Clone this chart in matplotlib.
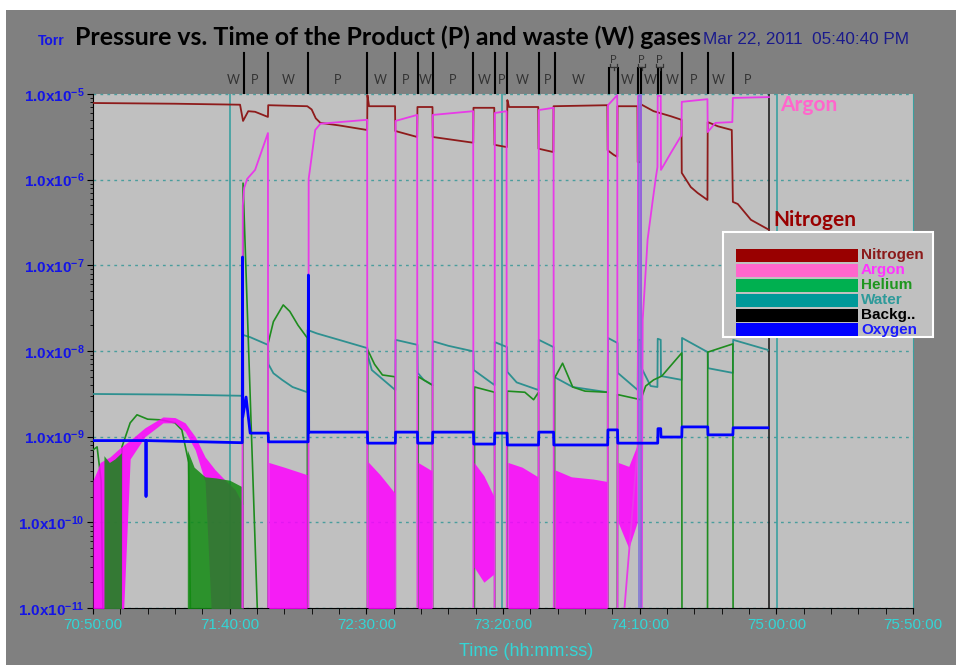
import numpy as np
import matplotlib.pyplot as plt
from matplotlib.patches import Rectangle
from matplotlib.ticker import FixedLocator, MultipleLocator, FuncFormatter, NullFormatter

plt.rcParams['font.family'] = ['Liberation Sans', 'DejaVu Sans']
plt.rcParams['mathtext.fontset'] = 'custom'
plt.rcParams['mathtext.rm'] = 'Liberation Sans'
plt.rcParams['mathtext.bf'] = 'Liberation Sans:bold'

T0 = 70 * 60 + 50   # 70:50:00 in minutes
LOW = 1e-12         # below the 1e-11 floor (trace runs off the bottom)

# ---- traces: minutes after 70:50:00, pressure in Torr
n2_t = [0, 30, 53.8, 54.9, 56.8, 59.3, 64.0, 64.1, 78.4, 80.0, 81.5, 83.2, 90, 100.3,
        100.4, 101.0, 110.5, 110.6, 118.6, 118.7, 124.2, 124.3, 139.1, 139.2, 146.8,
        146.9, 151.4, 151.6, 152.2, 162.9, 163.0, 168.4, 168.5, 188.2, 188.3, 190.5,
        191.8, 191.9, 199.2, 199.3, 200.3, 200.4, 205.1, 211.4, 215.3, 215.4, 218.7,
        221.2, 224.8, 224.9, 228.6, 233.7, 234.1, 235.9, 240.7, 247.3]
n2_p = [7.85e-6, 7.7e-6, 7.5e-6, 4.85e-6, 6.3e-6, 6.2e-6, 5.4e-6, 7.4e-6, 7.2e-6, 6.6e-6,
        5.2e-6, 4.6e-6, 4.3e-6, 3.8e-6, 9.7e-6, 7.2e-6, 7.2e-6, 3.7e-6, 3.15e-6, 7.05e-6,
        7.05e-6, 3.15e-6, 2.7e-6, 6.9e-6, 6.9e-6, 2.55e-6, 2.4e-6, 8.5e-6, 7.05e-6, 7.05e-6,
        2.3e-6, 2.1e-6, 7.2e-6, 7.4e-6, 2.2e-6, 1.95e-6, 1.85e-6, 7.2e-6, 7.2e-6, 1.6e-6,
        1.6e-6, 7.6e-6, 6.3e-6, 5.5e-6, 5.0e-6, 1.2e-6, 8.2e-7, 7.0e-7, 5.8e-7, 4.7e-6,
        4.2e-6, 3.8e-6, 5.5e-7, 5.2e-7, 3.4e-7, 2.6e-7]

ar_t = [54.6, 54.8, 55.3, 56.4, 59.3, 64.0, 64.1, 78.8, 78.9, 81.3, 83.2, 100.3, 100.4,
        110.6, 110.7, 118.6, 118.7, 124.2, 124.3, 139.1, 139.2, 146.9, 147.0, 151.3,
        151.4, 163.0, 163.1, 168.5, 168.6, 188.3, 188.4, 191.8, 191.9, 199.3, 199.4,
        200.5, 200.6, 201.1, 202.9, 204.8, 205.9, 206.5, 206.6, 207.7, 207.8, 211.4,
        215.3, 215.4, 224.8, 224.9, 227.7, 233.9, 234.1, 247.3]
ar_p = [LOW, 5e-7, 8e-7, 1.02e-6, 1.3e-6, 3.5e-6, LOW, LOW, 1.02e-6, 3.8e-6, 4.5e-6, 5.0e-6,
        LOW, LOW, 4.85e-6, 5.7e-6, LOW, LOW, 5.7e-6, 6.3e-6, LOW, LOW, 6.0e-6, 6.3e-6,
        LOW, LOW, 6.5e-6, 6.9e-6, LOW, LOW, 7.4e-6, 9.7e-6, LOW, 8e-10, 9.5e-6,
        9.5e-6, LOW, 2.3e-8, 2.0e-7, 5.8e-7, 1.05e-6, 1.4e-6, 9.5e-6, 9.5e-6, 1.3e-6, 2.05e-6,
        3.3e-6, 8.1e-6, 8.7e-6, 3.6e-6, 4.6e-6, 4.7e-6, 9.0e-6, 9.2e-6]

he_t = [0, 1.5, 3.0, 4.0, 10.2, 10.6, 13.6, 16.1, 20, 25, 30, 32.5, 35.0, 36.0, 54.8, 54.9,
        60.1, 60.2, 64.0, 64.1, 66, 69.6, 72, 75, 78.4, 78.5, 100.4, 100.5, 103, 105.9,
        110.5, 110.6, 118.9, 119.0, 124.2, 124.3, 139.5, 139.6, 146.9, 147.0, 151.5,
        151.6, 158, 161.2, 163.0, 163.1, 168.8, 168.9, 171.8, 175.5, 180, 188.3, 188.4,
        191.8, 191.9, 199.3, 200.4, 202.2, 205.1, 208.1, 215.4, 215.5, 224.8, 224.9,
        234.1, 234.2, 247.3]
he_p = [7e-10, 7.6e-10, 3e-10, LOW, LOW, 7.6e-10, 1.45e-9, 1.8e-9, 1.6e-9, 1.57e-9, 1.45e-9,
        1.2e-9, 5e-10, LOW, LOW, 9.1e-7, 1e-11, LOW, LOW, 1.24e-8, 2.2e-8, 3.45e-8, 2.9e-8,
        2.0e-8, 1.42e-8, LOW, LOW, 1.03e-8, 7e-9, 5.25e-9, 5.0e-9, LOW, LOW, 5.0e-9, 4.0e-9,
        LOW, LOW, 3.8e-9, 3.3e-9, LOW, LOW, 3.4e-9, 3.3e-9, 2.7e-9, 3.3e-9, LOW, LOW, 4.85e-9,
        7.2e-9, 3.8e-9, 3.4e-9, 3.3e-9, LOW, LOW, 3.1e-9, 2.75e-9, 2.7e-9, 3.9e-9, 4.6e-9,
        5.1e-9, 9.5e-9, LOW, LOW, 9.7e-9, 1.21e-8, LOW, LOW]

h2o_t = [0, 30, 54.8, 54.9, 57.5, 64.0, 64.2, 66, 69.2, 73, 78.4, 78.5, 82, 90, 100.4,
         100.5, 102, 110.6, 110.7, 118.7, 118.8, 121, 124.2, 124.3, 130, 139.2, 139.3,
         146.9, 147.0, 151.5, 151.6, 155, 163.0, 163.1, 168.5, 168.6, 175.5, 188.3, 188.4,
         191.9, 192.0, 199.3, 199.4, 200.3, 200.5, 204, 206.5, 206.6, 207.7, 207.8, 215.4,
         215.5, 224.9, 225.0, 234.1, 234.2, 246.9]
h2o_p = [3.15e-9, 3.1e-9, 3.0e-9, 1.54e-8, 1.45e-8, 1.18e-8, 7e-9, 5.5e-9, 4.6e-9, 3.8e-9,
         3.3e-9, 1.76e-8, 1.6e-8, 1.35e-8, 1.08e-8, 9e-9, 6e-9, 3.5e-9, 1.35e-8, 1.18e-8,
         5.55e-9, 4.6e-9, 4.0e-9, 1.3e-8, 1.15e-8, 9.9e-9, 6e-9, 4.0e-9, 1.27e-8, 1.11e-8,
         5.7e-9, 4.3e-9, 3.5e-9, 1.35e-8, 1.11e-8, 5.0e-9, 3.8e-9, 3.3e-9, 1.42e-8, 1.24e-8,
         5.55e-9, 3.5e-9, 1.35e-8, 1.35e-8, 6.5e-9, 3.9e-9, 3.8e-9, 1.39e-8, 1.35e-8, 5.1e-9,
         4.6e-9, 1.42e-8, 9.7e-9, 6.3e-9, 5.55e-9, 1.35e-8, 1.03e-8]

o2_t = [0, 19.3, 19.4, 19.5, 54.6, 54.7, 54.8, 56.0, 57.5, 64.1, 64.2, 78.7, 78.8, 78.9,
        100.4, 100.5, 110.6, 110.7, 118.7, 118.8, 124.2, 124.3, 139.2, 139.3, 146.9, 147.0,
        151.5, 151.6, 163.0, 163.1, 168.5, 168.6, 188.3, 188.4, 191.9, 192.0, 206.6, 206.7,
        207.7, 207.8, 215.4, 215.5, 224.9, 225.0, 234.1, 234.2, 246.9]
o2_p = [9e-10, 9e-10, 2.0e-10, 9e-10, 8.5e-10, 1.25e-7, 1.7e-9, 2.9e-9, 1.1e-9, 1.1e-9,
        8.7e-10, 8.7e-10, 7.7e-8, 1.13e-9, 1.13e-9, 8.4e-10, 8.4e-10, 1.13e-9, 1.13e-9,
        8.4e-10, 8.4e-10, 1.13e-9, 1.13e-9, 8.2e-10, 8.2e-10, 1.1e-9, 1.1e-9, 8.0e-10,
        8.0e-10, 1.13e-9, 1.13e-9, 8.0e-10, 8.0e-10, 1.2e-9, 1.2e-9, 8.4e-10, 8.4e-10,
        1.24e-9, 1.24e-9, 9.9e-10, 9.9e-10, 1.3e-9, 1.3e-9, 1.05e-9, 1.05e-9, 1.27e-9,
        1.27e-9]
o2_flush = (199.3, 200.9)   # oxygen burst spanning the full scale

# noisy bands: (times, upper envelope, lower envelope)
ar_noise = [
    ([0, 1.5, 2.6, 6.2, 9.9, 13.6, 19.0, 25.6, 30.0, 33.7, 37.4, 41.0, 44.7, 48.4, 52.0, 54.9],
     [3.1e-10, 4e-10, 5e-10, 5.8e-10, 7.4e-10, 9.1e-10, 1.27e-9, 1.7e-9, 1.67e-9, 1.45e-9,
      1.0e-9, 5.8e-10, 4.1e-10, 3.1e-10, 2.4e-10, 1.6e-10],
     [LOW, LOW, LOW, LOW, LOW, 5.5e-10, 1.0e-9, 1.45e-9, 1.45e-9, 1.15e-9, 7e-10, 3e-10,
      LOW, LOW, LOW, LOW]),
    ([64.3, 70, 78.3], [5e-10, 4.4e-10, 3.6e-10], [LOW] * 3),
    ([100.6, 105, 110.4], [5.1e-10, 3.6e-10, 2.2e-10], [LOW] * 3),
    ([118.9, 124.0], [5e-10, 4e-10], [LOW] * 2),
    ([139.4, 143, 146.7], [5e-10, 3.5e-10, 2e-10], [3e-11, 2e-11, 2.5e-11]),
    ([151.8, 157, 162.8], [5e-10, 4.4e-10, 3.4e-10], [LOW] * 3),
    ([169.0, 175, 183, 188.1], [4.1e-10, 3.4e-10, 3.2e-10, 3.0e-10], [LOW] * 4),
    ([192.1, 196, 199.1], [5e-10, 4.5e-10, 8e-10], [1e-10, 5e-11, 1e-10]),
]
he_noise = [
    ([4.0, 6, 8, 10.4], [6e-10, 5e-10, 5.5e-10, 6.5e-10], [LOW] * 4),
    ([34.5, 37, 41, 45, 50, 54.6], [7e-10, 4.4e-10, 3.4e-10, 3.3e-10, 3.1e-10, 2.6e-10],
     [LOW] * 6),
]

# phase annotations along the top
phase_lbl = ['W', 'P', 'W', 'P', 'W', 'P', 'W', 'P', 'W', 'P', 'W', 'P', 'W',
             'W', 'W', 'W', 'P', 'W', 'P']
phase_mid = [51.3, 59.0, 71.4, 89.4, 105.1, 114.3, 121.6, 131.5, 143.2, 149.5, 157.1,
             166.3, 177.7, 195.6, 204.0, 212.1, 219.8, 228.9, 239.6]
pulse_mid = [190.5, 200.7, 207.3]
cuts_long = [55.3, 64.1, 78.8, 100.4, 110.6, 119.0, 124.5, 139.2, 146.9, 151.6, 163.0,
             168.9, 215.4, 224.9, 234.1]
cuts_short = [188.6, 191.9, 199.3, 200.4, 206.6, 207.7]
water_marks = [50.2, 149.8, 250.2]
scan_end = 247.3

legend_names = ['Nitrogen', 'Argon', 'Helium', 'Water', 'Backg..', 'Oxygen']
legend_bar = ['#990000', '#FF66CC', '#00B050', '#009999', '#000000', '#0000FF']
legend_txt = ['#8B1A1A', '#FF33FF', '#1E961E', '#2E9A9A', '#000000', '#1A1AFF']

c_n2, c_ar, c_ar_noise, c_he, c_h2o, c_o2 = '#8E1B1B', '#E83AE8', '#FF00FF', '#1E8C1E', '#2E9090', '#0000FF'
cyan = '#33D6D6'

fig = plt.figure(figsize=(9.56, 6.65), dpi=100, facecolor='white')
fig.patches.append(Rectangle((6 / 956, 0), 1, 655 / 665, transform=fig.transFigure,
                             facecolor='#808080', edgecolor='none', zorder=-10))
ax = fig.add_axes([93 / 956, 57 / 665, 820 / 956, 514 / 665])
ax.set_facecolor('#C0C0C0')
ax.set_yscale('log')
ax.set_xlim(T0, T0 + 300)
ax.set_ylim(1e-11, 1e-5)

for d in range(-11, -4):
    ax.axhline(10.0 ** d, color='#4A9D9D', lw=1, ls=(0, (2, 3)), zorder=1, clip_on=False)

for x in water_marks:
    ax.axvline(T0 + x, color='#3AA0A0', lw=1.2, zorder=2)
ax.axvline(T0 + scan_end, color='#202020', lw=1.2, zorder=2)

ax.plot(T0 + np.array(n2_t), n2_p, color=c_n2, lw=1.3, zorder=3)
ax.plot(T0 + np.array(h2o_t), h2o_p, color=c_h2o, lw=1.3, zorder=3)
ax.plot(T0 + np.array(he_t), he_p, color=c_he, lw=1.2, zorder=4)
for t, hi, lo in ar_noise:
    ax.fill_between(T0 + np.array(t), lo, hi, color=c_ar_noise, lw=0, alpha=0.85, zorder=4)
for t, hi, lo in he_noise:
    ax.fill_between(T0 + np.array(t), lo, hi, color='#128A12', lw=0, alpha=0.85, zorder=5)
ax.plot(T0 + np.array(ar_t), ar_p, color=c_ar, lw=1.3, zorder=5)
ax.axvspan(T0 + o2_flush[0], T0 + o2_flush[1], color='#7A6FD8', alpha=0.75, lw=0, zorder=5)
ax.plot(T0 + np.array(o2_t), o2_p, color=c_o2, lw=2.0, zorder=6)

# axes styling
ax.spines['top'].set_visible(False)
ax.spines['right'].set_color('#3AA0A0')
ax.spines['left'].set_color('black')
ax.spines['bottom'].set_color('black')

ax.xaxis.set_major_locator(FixedLocator([T0 + 50 * k for k in range(7)]))
ax.xaxis.set_minor_locator(MultipleLocator(10))
ax.xaxis.set_major_formatter(FuncFormatter(
    lambda v, p: '%d:%02d:00' % (int(round(v)) // 60, int(round(v)) % 60)))
ax.tick_params(axis='x', which='both', direction='out', length=4, color='black',
               labelcolor=cyan, labelsize=11, pad=3)

ax.yaxis.set_major_locator(FixedLocator([10.0 ** d for d in range(-11, -4)]))
ax.yaxis.set_minor_locator(FixedLocator([m * 10.0 ** d for d in range(-11, -5) for m in range(2, 10)]))
ax.yaxis.set_minor_formatter(NullFormatter())
ax.yaxis.set_major_formatter(FuncFormatter(
    lambda v, p: r'$\mathbf{1.0x10^{%d}}$' % round(np.log10(v))))
ax.tick_params(axis='y', which='major', direction='out', length=4, color='black',
               labelcolor='#1414E6', labelsize=11, pad=2)
ax.tick_params(axis='y', which='minor', direction='out', length=2.5, color='black')

# phase markers above the plot
xt = ax.get_xaxis_transform()
for x in cuts_long:
    ax.plot([T0 + x] * 2, [1.002, 1.080], color='black', lw=1.5, transform=xt, clip_on=False)
for x in cuts_short:
    ax.plot([T0 + x] * 2, [1.002, 1.051], color='black', lw=1.5, transform=xt, clip_on=False)
for lbl, x in zip(phase_lbl, phase_mid):
    ax.text(T0 + x, 1.027, lbl, transform=xt, ha='center', va='center', fontsize=9,
            family=['Lato', 'DejaVu Sans'], color='#333333')
for x in pulse_mid:
    ax.text(T0 + x, 1.068, 'P', transform=xt, ha='center', va='center', fontsize=8,
            family=['Lato', 'DejaVu Sans'], color='#333333')
    ax.plot(T0 + x + np.array([-1.3, -1.3, 1.3, 1.3]), [1.058, 1.053, 1.053, 1.058],
            color='#333333', lw=0.9, transform=xt, clip_on=False)
    ax.plot([T0 + x] * 2, [1.053, 1.047], color='#333333', lw=0.9, transform=xt, clip_on=False)

# titles
fig.text(38 / 956, 1 - 41 / 665, 'Torr', color='#1414E6', fontsize=10, fontweight='bold',
         va='center')
fig.text(75 / 956, 1 - 37 / 665, 'Pressure vs. Time of the Product (P) and waste (W) gases',
         family=['Lato', 'DejaVu Sans'], fontsize=17.9, fontweight='bold', color='black',
         va='center')
fig.text(703 / 956, 1 - 40 / 665, 'Mar 22, 2011  05:40:40 PM', color='#1A1A8C', fontsize=12.3,
         va='center')
fig.text(526 / 956, 1 - 652 / 665, 'Time (hh:mm:ss)', color=cyan, fontsize=13,
         ha='center', va='center')

ax.text(0.8376, 0.9786, 'Argon', transform=ax.transAxes, color='#FF66CC', fontsize=15,
        fontweight='bold', family=['Lato', 'DejaVu Sans'], va='center', zorder=8)
ax.text(0.830, 0.755, 'Nitrogen', transform=ax.transAxes, color='#990000', fontsize=15,
        fontweight='bold', family=['Lato', 'DejaVu Sans'], va='center', zorder=8)

# legend box (drawn in figure pixels)
fig.patches.append(Rectangle((723 / 956, 1 - 337 / 665), 210 / 956, 105 / 665,
                             transform=fig.transFigure, facecolor='#C0C0C0',
                             edgecolor='white', lw=1.5, zorder=20))
for i, name in enumerate(legend_names):
    yc = 255 + 15 * i
    fig.patches.append(Rectangle((736 / 956, 1 - (yc + 6.5) / 665), 122 / 956, 13 / 665,
                                 transform=fig.transFigure, facecolor=legend_bar[i],
                                 edgecolor='none', zorder=21))
    fig.text(861 / 956, 1 - yc / 665, name, color=legend_txt[i], fontsize=11,
             fontweight='bold', va='center', zorder=22)

fig.savefig('out.png', dpi=100, facecolor=fig.get_facecolor())
